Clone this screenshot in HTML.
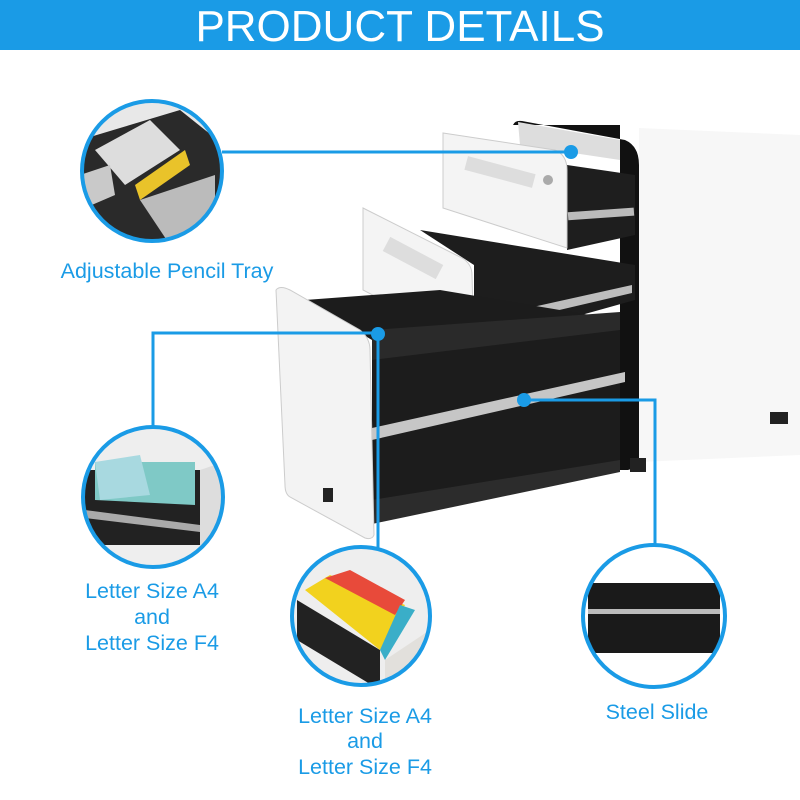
<!DOCTYPE html>
<html><head><meta charset="utf-8"><style>
html,body{margin:0;padding:0;background:#fff;}
svg{display:block}
</style></head><body>
<svg width="800" height="800" viewBox="0 0 800 800" xmlns="http://www.w3.org/2000/svg">
<defs>
<clipPath id="c1"><circle cx="152" cy="171" r="69"/></clipPath>
<clipPath id="c2"><circle cx="153" cy="497" r="69"/></clipPath>
<clipPath id="c3"><circle cx="361" cy="616" r="68"/></clipPath>
<clipPath id="c4"><circle cx="654" cy="616" r="70"/></clipPath>
</defs>
<rect x="0" y="0" width="800" height="50" fill="#1a9be6"/>
<text x="400" y="41" text-anchor="middle" font-family="Liberation Sans, sans-serif" font-size="44" fill="#fff">PRODUCT DETAILS</text>

<!-- cabinet body -->
<path d="M639 128 L800 135 L800 455 L639 462 Z" fill="#f7f7f7"/>
<path d="M513 125 Q515 120 522 121 L625 140 Q639 146 639 165 L639 462 Q636 468 628 470 L620 470 L620 125 Z" fill="#111"/>
<path d="M518 122 L620 140 L620 160 L520 145 Z" fill="#ddd"/>
<rect x="770" y="412" width="18" height="12" fill="#222"/>
<rect x="630" y="458" width="16" height="14" fill="#222"/>
<!-- top drawer box -->
<path d="M567 165 L635 175 L635 235 L567 250 Z" fill="#1e1e1e"/>
<rect x="568" y="210" width="66" height="8" fill="#bbb" transform="rotate(-4 600 214)"/>
<!-- top drawer front -->
<path d="M443 133 L555 150 Q567 155 567 170 L567 248 L443 208 Z" fill="#f4f4f4" stroke="#ccc"/>
<rect x="465" y="165" width="70" height="14" fill="#ddd" transform="rotate(15 500 172)"/>
<circle cx="548" cy="180" r="5" fill="#aaa"/>
<!-- middle drawer box -->
<path d="M420 230 L635 265 L635 300 L474 345 L474 265 Z" fill="#1d1d1d"/>
<path d="M474 320 L632 285 L632 293 L474 330 Z" fill="#bdbdbd"/>
<!-- middle drawer front -->
<path d="M363 208 L462 258 Q472 264 472 275 L474 348 L363 290 Z" fill="#f4f4f4" stroke="#ccc"/>
<rect x="383" y="250" width="60" height="16" fill="#ddd" transform="rotate(28 413 258)"/>
<!-- bottom drawer box -->
<path d="M305 300 L440 290 L620 320 L620 470 L372 520 L372 340 Z" fill="#1c1c1c"/>
<path d="M372 330 L620 312 L620 330 L372 360 Z" fill="#2a2a2a"/>
<path d="M372 428 L625 372 L625 382 L372 440 Z" fill="#c6c6c6"/>
<path d="M372 500 L620 460 L620 472 L372 524 Z" fill="#2c2c2c"/>
<!-- bottom drawer front -->
<path d="M276 290 Q280 285 290 290 L360 330 Q370 338 370 350 L374 535 Q372 540 365 538 L290 497 Q285 494 285 485 Z" fill="#f3f3f3" stroke="#ccc"/>
<rect x="323" y="488" width="10" height="14" fill="#222"/>

<!-- connectors -->
<g stroke="#1a9be6" stroke-width="3" fill="none">
<line x1="222" y1="152" x2="571" y2="152"/>
<polyline points="153,428 153,333 378,333 378,548"/>
<polyline points="524,400 655,400 655,545"/>
</g>
<g fill="#1a9be6">
<circle cx="571" cy="152" r="7"/>
<circle cx="378" cy="334" r="7"/>
<circle cx="524" cy="400" r="7"/>
</g>

<!-- circle 1: pencil tray -->
<g clip-path="url(#c1)">
<rect x="80" y="100" width="150" height="150" fill="#e8e8e8"/>
<path d="M80 140 L180 110 L230 150 L230 220 L140 250 L80 220 Z" fill="#2a2a2a"/>
<path d="M95 150 L150 120 L180 150 L125 185 Z" fill="#ddd"/>
<path d="M135 185 L185 150 L190 165 L140 200 Z" fill="#e9c32a"/>
<path d="M140 200 L215 175 L215 225 L170 245 Z" fill="#bbb"/>
<path d="M80 175 L110 165 L115 195 L80 210 Z" fill="#c9c9c9"/>
</g>
<circle cx="152" cy="171" r="70" fill="none" stroke="#1a9be6" stroke-width="4"/>

<!-- circle 2 -->
<g clip-path="url(#c2)">
<rect x="80" y="425" width="150" height="150" fill="#eee"/>
<path d="M85 470 L200 470 L200 545 L85 545 Z" fill="#222"/>
<path d="M95 462 L195 462 L195 505 L95 500 Z" fill="#7fc9c6"/>
<path d="M95 462 L140 455 L150 495 L100 500 Z" fill="#a8d9e0"/>
<path d="M85 510 L200 525 L200 532 L85 518 Z" fill="#aaa"/>
<path d="M200 470 L230 460 L230 545 L200 560 Z" fill="#ddd"/>
</g>
<circle cx="153" cy="497" r="70" fill="none" stroke="#1a9be6" stroke-width="4"/>

<!-- circle 3 -->
<g clip-path="url(#c3)">
<rect x="290" y="545" width="145" height="145" fill="#eee"/>
<path d="M297 600 L380 650 L380 690 L297 640 Z" fill="#222"/>
<path d="M305 590 L330 575 L405 605 L380 650 Z" fill="#f2d21e"/>
<path d="M325 578 L350 570 L405 600 L395 615 Z" fill="#e84a3a"/>
<path d="M380 650 L400 605 L415 610 L385 660 Z" fill="#3aaec8"/>
<path d="M385 660 L430 630 L430 690 L385 690 Z" fill="#e2e0dc"/>
</g>
<circle cx="361" cy="616" r="69" fill="none" stroke="#1a9be6" stroke-width="4"/>

<!-- circle 4 -->
<g clip-path="url(#c4)">
<rect x="582" y="545" width="145" height="145" fill="#fff"/>
<rect x="588" y="583" width="132" height="70" fill="#1a1a1a"/>
<rect x="588" y="609" width="132" height="5" fill="#bbb"/>
</g>
<circle cx="654" cy="616" r="71" fill="none" stroke="#1a9be6" stroke-width="4"/>

<!-- labels -->
<g font-family="Liberation Sans, sans-serif" font-size="21.5" fill="#1a9be6" text-anchor="middle">
<text x="167" y="278">Adjustable Pencil Tray</text>
<text x="152" y="598">Letter Size A4</text>
<text x="152" y="624">and</text>
<text x="152" y="650">Letter Size F4</text>
<text x="365" y="723">Letter Size A4</text>
<text x="365" y="748">and</text>
<text x="365" y="774">Letter Size F4</text>
<text x="657" y="719">Steel Slide</text>
</g>
</svg>
</body></html>
